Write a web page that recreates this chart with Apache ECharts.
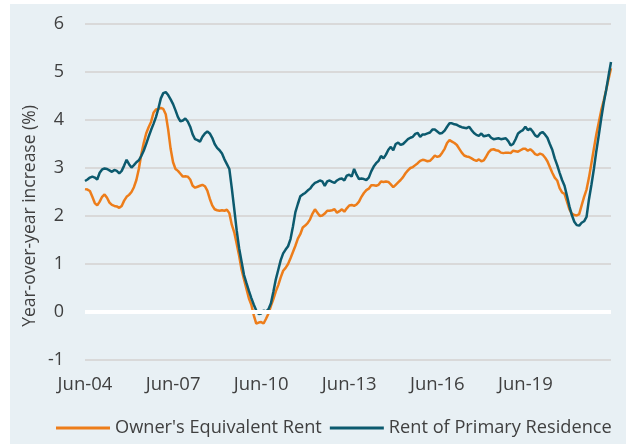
<!DOCTYPE html>
<html>
<head>
<meta charset="utf-8">
<script src="https://cdn.jsdelivr.net/npm/echarts@6/dist/echarts.min.js"></script>
<style>
html,body{margin:0;padding:0;background:#ffffff;}
#chart{width:626px;height:444px;}
</style>
</head>
<body>
<div id="chart"></div>
<script>
// Monthly categories, Jun-04 .. May-22
const startYear = 2004, startMonth = 5, monthCount = 216;
const monthNames = ['Jan','Feb','Mar','Apr','May','Jun','Jul','Aug','Sep','Oct','Nov','Dec'];
const categories = [];
for (let i = 0; i < monthCount; i++) {
  const m = (startMonth + i) % 12;
  const y = startYear + Math.floor((startMonth + i) / 12);
  categories.push(monthNames[m] + '-' + String(y % 100).padStart(2, '0'));
}

const seriesNames = ["Owner's Equivalent Rent", 'Rent of Primary Residence'];

const ownersEquivalentRent = [
2.56,2.55,2.52,2.40,2.27,2.22,2.30,2.40,2.45,2.38,2.28,2.23,2.21,2.20,2.17,2.21,2.32,2.40,2.44,2.50,
2.60,2.75,2.98,3.28,3.52,3.72,3.85,3.96,4.15,4.22,4.23,4.25,4.23,4.12,3.80,3.40,3.12,2.98,2.94,2.88,
2.82,2.83,2.82,2.76,2.63,2.59,2.61,2.63,2.65,2.62,2.53,2.36,2.22,2.14,2.12,2.11,2.12,2.11,2.13,2.06,
1.82,1.66,1.42,1.17,0.88,0.68,0.48,0.28,0.15,-0.07,-0.24,-0.22,-0.21,-0.24,-0.14,-0.03,0.13,0.27,0.43,0.56,
0.72,0.86,0.92,1.00,1.12,1.25,1.38,1.53,1.62,1.76,1.80,1.85,1.93,2.05,2.14,2.07,2.00,2.01,2.05,2.11,
2.11,2.12,2.14,2.07,2.10,2.14,2.09,2.16,2.22,2.23,2.21,2.24,2.30,2.40,2.48,2.54,2.57,2.64,2.64,2.63,
2.65,2.72,2.71,2.72,2.71,2.66,2.60,2.65,2.70,2.75,2.81,2.89,2.95,3.00,3.02,3.06,3.10,3.15,3.17,3.16,
3.14,3.15,3.20,3.26,3.23,3.25,3.32,3.40,3.52,3.58,3.55,3.52,3.48,3.40,3.32,3.26,3.24,3.23,3.20,3.17,
3.15,3.18,3.14,3.16,3.24,3.33,3.38,3.39,3.37,3.36,3.32,3.31,3.32,3.32,3.31,3.36,3.35,3.34,3.37,3.40,
3.40,3.36,3.39,3.35,3.29,3.27,3.30,3.28,3.22,3.14,3.02,2.90,2.80,2.74,2.58,2.49,2.46,2.30,2.14,2.05,
2.02,2.01,2.04,2.22,2.40,2.55,2.80,3.10,3.40,3.70,3.95,4.20,4.40,4.62,4.85,5.08
];

const rentOfPrimaryResidence = [
2.73,2.76,2.80,2.82,2.80,2.76,2.90,2.97,2.99,2.98,2.95,2.92,2.96,2.94,2.89,2.94,3.05,3.17,3.08,3.01,
3.06,3.12,3.16,3.25,3.36,3.50,3.65,3.79,3.92,4.06,4.24,4.45,4.56,4.58,4.52,4.43,4.33,4.20,4.06,3.97,
3.99,4.03,3.97,3.86,3.70,3.60,3.58,3.55,3.65,3.72,3.76,3.72,3.63,3.50,3.42,3.37,3.30,3.18,3.08,2.98,
2.58,2.15,1.70,1.33,1.05,0.77,0.60,0.44,0.29,0.15,0.03,-0.04,-0.03,0.03,0.01,0.06,0.18,0.42,0.68,0.88,
1.08,1.22,1.30,1.37,1.52,1.78,2.08,2.25,2.41,2.45,2.48,2.53,2.57,2.64,2.69,2.71,2.74,2.72,2.63,2.72,
2.74,2.71,2.69,2.74,2.77,2.78,2.74,2.84,2.86,2.82,2.98,2.86,2.77,2.78,2.77,2.75,2.80,2.93,3.03,3.10,
3.15,3.25,3.20,3.28,3.38,3.44,3.37,3.50,3.53,3.48,3.50,3.55,3.60,3.63,3.65,3.71,3.73,3.65,3.70,3.70,
3.72,3.74,3.80,3.80,3.76,3.72,3.73,3.78,3.86,3.93,3.93,3.91,3.90,3.87,3.85,3.84,3.83,3.86,3.79,3.73,
3.69,3.67,3.72,3.66,3.67,3.69,3.63,3.60,3.61,3.62,3.60,3.61,3.62,3.56,3.47,3.50,3.60,3.72,3.76,3.79,
3.86,3.79,3.82,3.76,3.68,3.65,3.72,3.75,3.70,3.63,3.50,3.38,3.20,3.06,2.90,2.75,2.63,2.42,2.20,2.02,
1.88,1.81,1.80,1.86,1.89,1.98,2.35,2.65,2.98,3.35,3.68,4.03,4.35,4.62,4.92,5.21
];

const yTicks = { min: -1, max: 6, step: 1 };
const yTitle = 'Year-over-year increase (%)';

const FONT = 'Open Sans';
const TXT = '#404040';

const chart = echarts.init(document.getElementById('chart'), null, { renderer: 'canvas' });
chart.setOption({
  animation: false,
  backgroundColor: '#E8F0F4',
  textStyle: { fontFamily: FONT },
  grid: { left: 85, right: 15, top: 24, bottom: 84 },
  graphic: [
    { type: 'rect', left: 0, top: 0, shape: { width: 10, height: 444 }, style: { fill: '#ffffff' }, silent: true },
    { type: 'rect', left: 0, top: 0, shape: { width: 626, height: 4 }, style: { fill: '#ffffff' }, silent: true },
    { type: 'text', x: 30, y: 216, rotation: Math.PI / 2,
      style: { text: yTitle, font: '17.5px "Open Sans"', fill: TXT, align: 'center', verticalAlign: 'middle' } }
  ],
  legend: {
    data: seriesNames,
    left: 51, top: 414,
    icon: 'rect', itemWidth: 54, itemHeight: 3, itemGap: 8,
    textStyle: { fontSize: 18.2, color: TXT, fontFamily: FONT }
  },
  xAxis: {
    type: 'category', data: categories, boundaryGap: false,
    axisLine: { show: false }, axisTick: { show: false }, splitLine: { show: false },
    axisLabel: { interval: 35, color: TXT, fontSize: 18.5, fontFamily: FONT, margin: 15 }
  },
  yAxis: {
    type: 'value', min: yTicks.min, max: yTicks.max, interval: yTicks.step,
    axisLine: { show: false }, axisTick: { show: false },
    axisLabel: { color: TXT, fontSize: 18, fontFamily: FONT, margin: 21 },
    splitLine: { lineStyle: { color: '#D9D9D9', width: 2 } }
  },
  series: [
    { type: 'line', data: [], z: 1, silent: true,
      markLine: { silent: true, symbol: 'none', label: { show: false },
        lineStyle: { color: '#ffffff', width: 4, type: 'solid' }, data: [{ yAxis: 0 }] } },
    { name: seriesNames[0], type: 'line', data: ownersEquivalentRent, showSymbol: false, symbol: 'none', z: 3,
      lineStyle: { color: '#ED7D1A', width: 2.5 }, itemStyle: { color: '#ED7D1A' } },
    { name: seriesNames[1], type: 'line', data: rentOfPrimaryResidence, showSymbol: false, symbol: 'none', z: 4,
      lineStyle: { color: '#0C5A6E', width: 2.5 }, itemStyle: { color: '#0C5A6E' } }
  ]
});
</script>
</body>
</html>
